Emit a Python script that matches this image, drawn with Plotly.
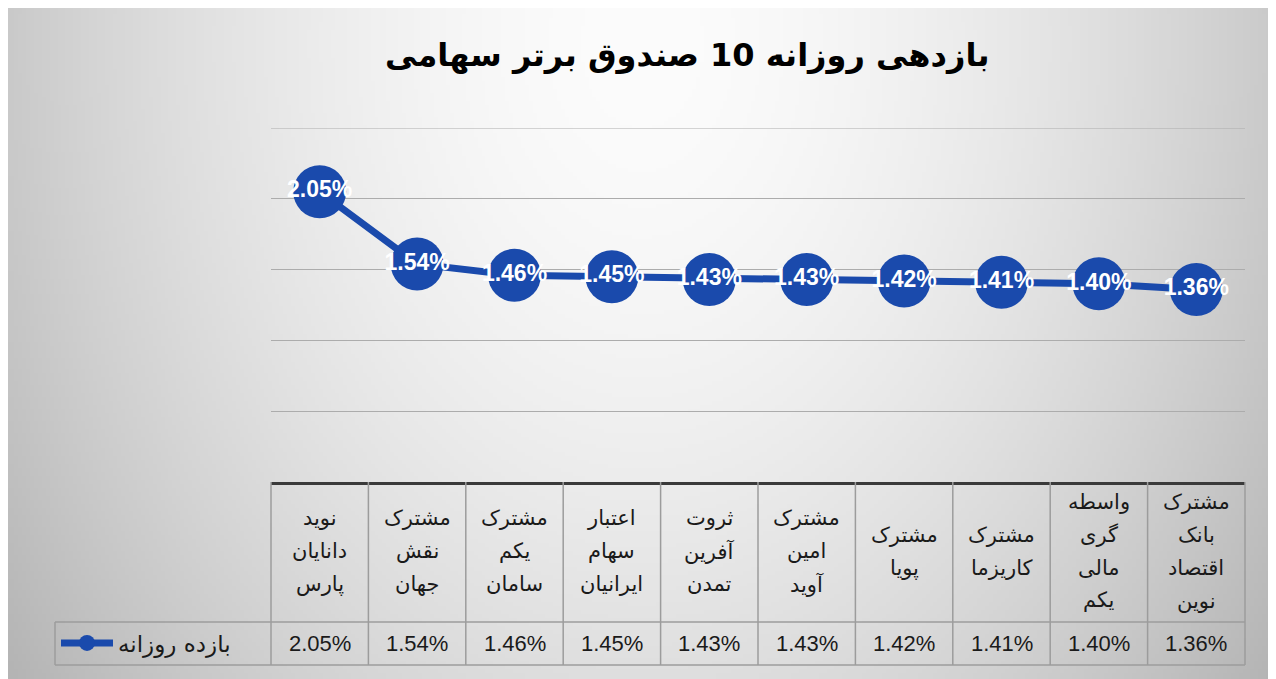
import base64, struct, zlib
import numpy as np
import plotly.graph_objects as go

# ---------------- data ----------------
categories = [
    "نوید دانایان پارس",
    "مشترک نقش جهان",
    "مشترک یکم سامان",
    "اعتبار سهام ایرانیان",
    "ثروت آفرین تمدن",
    "مشترک امین آوید",
    "مشترک پویا",
    "مشترک کاریزما",
    "واسطه گری مالی یکم",
    "مشترک بانک اقتصاد نوین",
]
values = [2.05, 1.54, 1.46, 1.45, 1.43, 1.43, 1.42, 1.41, 1.40, 1.36]
value_labels = ["2.05%", "1.54%", "1.46%", "1.45%", "1.43%", "1.43%", "1.42%", "1.41%", "1.40%", "1.36%"]
series_name = "بازده روزانه"
title_text = "بازدهی روزانه 10 صندوق برتر سهامی"
grid_values = [0.5, 1.0, 1.5, 2.0, 2.5]

# ---------------- geometry (reference pixel coords; page has 8px body margin) ----------------
OFF = 8
W, H = 1276 - OFF, 679 - OFF
PL, PR, PT, PB = 271, 1245, 128, 482          # plot box in reference pixels
ML, MR, MT, MB = PL - OFF, (1276 - PR), PT - OFF, (679 - PB)
PW, PH = PR - PL, PB - PT

def py(pix):  # reference pixel y -> paper y
    return (PB - pix) / PH

def px(pix):  # reference pixel x -> paper x
    return (pix - PL) / PW

BLUE = "#1a4aac"
GRID = "#acacac"
BORDER = "#9c9c9c"

# ---------------- background gradient image ----------------
gw, gh = 320, 170
xx, yy = np.meshgrid(np.linspace(0, 1, gw), np.linspace(0, 1, gh))
d = np.sqrt(((xx - 0.5) / 0.5) ** 2 + ((yy - 0.05) / 1.3) ** 2)
img = np.clip(252 - 50 * d ** 1.7, 0, 255).astype(np.uint8)

def png_gray(arr):
    h, w = arr.shape
    raw = b"".join(b"\x00" + arr[i].tobytes() for i in range(h))
    def chunk(t, dat):
        c = struct.pack(">I", len(dat)) + t + dat
        return c + struct.pack(">I", zlib.crc32(t + dat) & 0xFFFFFFFF)
    return (b"\x89PNG\r\n\x1a\n" + chunk(b"IHDR", struct.pack(">IIBBBBB", w, h, 8, 0, 0, 0, 0))
            + chunk(b"IDAT", zlib.compress(raw, 9)) + chunk(b"IEND", b""))

bg_uri = "data:image/png;base64," + base64.b64encode(png_gray(img)).decode()

fig = go.Figure()

fig.add_trace(go.Scatter(
    x=categories, y=values, mode="lines+markers", name=series_name,
    line=dict(color=BLUE, width=7),
    marker=dict(color=BLUE, size=53),
    cliponaxis=False, showlegend=True,
))
fig.add_trace(go.Scatter(
    x=categories, y=values, mode="text", text=value_labels,
    textposition="middle center",
    textfont=dict(family="Liberation Sans", size=23, color="white", weight="bold"),
    cliponaxis=False, showlegend=False, hoverinfo="skip",
))

shapes = []
# top gridline (at the range edge)
shapes.append(dict(type="line", xref="paper", yref="y", x0=0, x1=1,
                   y0=grid_values[-1], y1=grid_values[-1], layer="below",
                   line=dict(color=GRID, width=1.2)))
for k in range(len(categories) + 1):
    shapes.append(dict(type="line", xref="paper", yref="paper",
                       x0=k / len(categories), x1=k / len(categories),
                       y0=0, y1=py(665), line=dict(color=BORDER, width=1.5)))
for yp in (622, 665):
    shapes.append(dict(type="line", xref="paper", yref="paper",
                       x0=px(55), x1=1, y0=py(yp), y1=py(yp),
                       line=dict(color=BORDER, width=1.5)))
shapes.append(dict(type="line", xref="paper", yref="paper",
                   x0=px(55), x1=px(55), y0=py(622), y1=py(665),
                   line=dict(color=BORDER, width=1.5)))

annotations = []
annotations.append(dict(text=title_text, xref="paper", yref="paper",
                        x=px(687), y=py(55), xanchor="center", yanchor="middle",
                        showarrow=False,
                        font=dict(family="DejaVu Sans", size=32, color="black", weight="bold")))
LINE = 33
for cat in categories:
    words = cat.split(" ")
    n = len(words)
    for j, w in enumerate(words):
        annotations.append(dict(text=w, xref="x", yref="paper", x=cat, y=py(551),
                                yshift=-(j - (n - 1) / 2) * LINE,
                                xanchor="center", yanchor="middle", showarrow=False,
                                font=dict(family="DejaVu Sans", size=21, color="#1a1a1a")))
for cat, lab in zip(categories, value_labels):
    annotations.append(dict(text=lab, xref="x", yref="paper", x=cat, y=py(643),
                            xanchor="center", yanchor="middle", showarrow=False,
                            font=dict(family="Liberation Sans", size=22, color="#1a1a1a")))

fig.update_layout(
    width=W, height=H,
    margin=dict(l=ML, r=MR, t=MT, b=MB, pad=0),
    paper_bgcolor="white",
    plot_bgcolor="rgba(0,0,0,0)",
    xaxis=dict(type="category", range=[-0.5, len(categories) - 0.5],
               showticklabels=False, showgrid=False, zeroline=False,
               showline=True, linecolor="#3a3a3a", linewidth=3, ticks=""),
    yaxis=dict(range=[0, grid_values[-1]], tickvals=grid_values, showticklabels=False, showgrid=True,
               gridcolor=GRID, gridwidth=1.2, zeroline=False, showline=False, ticks=""),
    showlegend=True,
    legend=dict(x=px(56), y=py(643), xanchor="left", yanchor="middle",
                bgcolor="rgba(0,0,0,0)", borderwidth=0, itemwidth=52,
                font=dict(family="DejaVu Sans", size=23, color="#1a1a1a")),
    shapes=shapes,
    annotations=annotations,
    images=[dict(source=bg_uri, xref="paper", yref="paper",
                 x=px(OFF), y=py(OFF), sizex=W / PW, sizey=H / PH,
                 xanchor="left", yanchor="top", sizing="stretch", layer="below")],
)

fig.write_html("out.html")
